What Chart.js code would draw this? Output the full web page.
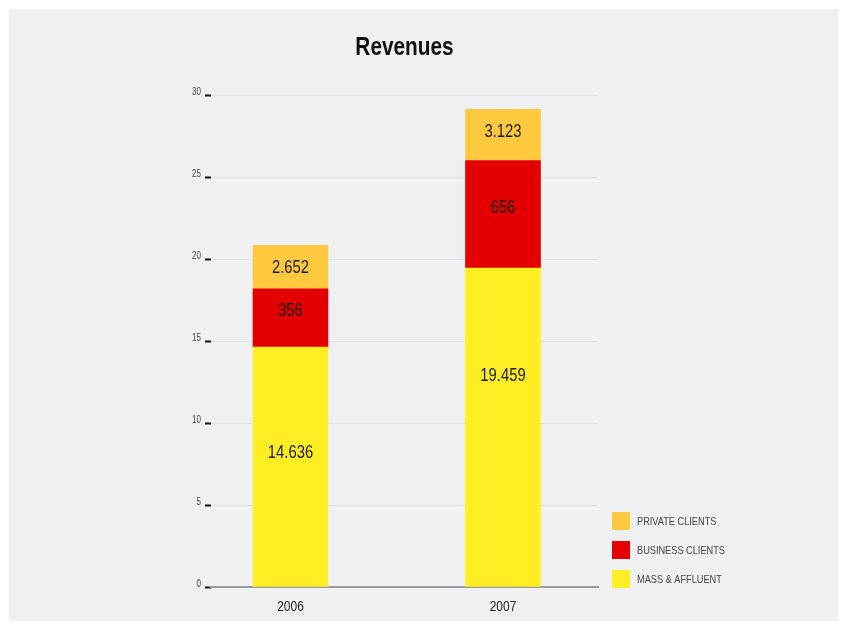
<!DOCTYPE html>
<html>
<head>
<meta charset="utf-8">
<title>Revenues</title>
<script src="https://cdn.jsdelivr.net/npm/chart.js@4.4.0/dist/chart.umd.min.js"></script>
<style>
  html, body { margin: 0; padding: 0; background: #fff; }
  #wrap { position: relative; width: 847px; height: 630px; }
  #panel { position: absolute; left: 9px; top: 9px; width: 829px; height: 612px; background: #eff0f2; }
  #myChart { position: absolute; left: 0; top: 0; }
</style>
</head>
<body>
<div id="wrap">
  <div id="panel"></div>
  <canvas id="myChart" width="847" height="630"></canvas>
</div>
<script>
const years = ['2006', '2007'];
const massAffluent = [14.636, 19.459];
const businessClients = [3.56, 6.56];
const privateClients = [2.652, 3.123];
const yTickValues = [0, 5, 10, 15, 20, 25, 30];

const FONT = "'Liberation Sans', Arial, sans-serif";
const SQUEEZE = 0.8; // condensed look: every string is drawn narrowed horizontally

// where each figure sits inside its segment (0 = top, 1 = bottom), per dataset / per year
const labelPlace = [[0.44, 0.34], [0.38, 0.44], [0.52, 0.45]];

const fmt3 = v => v.toFixed(3);
const fmtBiz = v => String(Math.round(v * 100));

function points(arr) {
    return arr.map((v, i) => ({ x: i, y: v }));
}

const ctx = document.getElementById('myChart').getContext('2d');

// narrow all text drawn on this canvas
const rawFill = ctx.fillText.bind(ctx);
const rawMeasure = ctx.measureText.bind(ctx);
ctx.fillText = function (text, x, y) {
    ctx.save();
    ctx.translate(x, y);
    ctx.scale(SQUEEZE, 1);
    rawFill(text, 0, 0);
    ctx.restore();
};
ctx.measureText = function (text) {
    const m = rawMeasure(text);
    return {
        width: m.width * SQUEEZE,
        actualBoundingBoxAscent: m.actualBoundingBoxAscent,
        actualBoundingBoxDescent: m.actualBoundingBoxDescent,
        actualBoundingBoxLeft: m.actualBoundingBoxLeft * SQUEEZE,
        actualBoundingBoxRight: m.actualBoundingBoxRight * SQUEEZE
    };
};

const segmentLabels = {
    id: 'segmentLabels',
    afterDatasetsDraw(chart) {
        const c = chart.ctx;
        c.save();
        c.font = '18.5px ' + FONT;
        c.fillStyle = '#1a1a1a';
        c.textAlign = 'center';
        c.textBaseline = 'middle';
        chart.data.datasets.forEach((ds, di) => {
            chart.getDatasetMeta(di).data.forEach((bar, i) => {
                const y = bar.y + (bar.base - bar.y) * labelPlace[di][i];
                c.fillText(ds.fmt(ds.data[i].y), bar.x, y);
            });
        });
        c.restore();
    }
};

// legend in the bottom right corner, next to the plot, top entry = top of the stack
const sideLegend = {
    id: 'sideLegend',
    afterDraw(chart) {
        const c = chart.ctx;
        const area = chart.chartArea;
        const left = area.right + 14;
        c.save();
        c.font = '11.5px ' + FONT;
        c.textAlign = 'left';
        c.textBaseline = 'middle';
        chart.data.datasets.forEach((ds, di) => {
            const top = area.bottom + 1 - 18 - di * 29;
            c.fillStyle = ds.backgroundColor;
            c.fillRect(left, top, 18, 18);
            c.fillStyle = '#444';
            c.fillText(ds.label, left + 25, top + 9.5);
        });
        c.restore();
    }
};

const revenueChart = new Chart(ctx, {
    type: 'bar',
    data: {
        datasets: [
            { label: 'MASS & AFFLUENT', data: points(massAffluent), backgroundColor: '#ffee24', fmt: fmt3 },
            { label: 'BUSINESS CLIENTS', data: points(businessClients), backgroundColor: '#e50000', fmt: fmtBiz },
            { label: 'PRIVATE CLIENTS', data: points(privateClients), backgroundColor: '#fec93f', fmt: fmt3 }
        ]
    },
    options: {
        responsive: false,
        animation: false,
        barThickness: 75,
        layout: { padding: { left: 175, top: 22, right: 249, bottom: 3 } },
        plugins: {
            title: {
                display: true,
                text: 'Revenues',
                fullSize: false,
                color: '#111',
                font: { family: FONT, size: 26, weight: 'bold' },
                padding: { top: 10, bottom: 32 }
            },
            legend: { display: false },
            tooltip: { enabled: false }
        },
        scales: {
            x: {
                type: 'linear',
                stacked: true,
                offset: false,
                min: -0.374,
                max: 1.447,
                afterBuildTicks: scale => { scale.ticks = years.map((y, i) => ({ value: i })); },
                ticks: {
                    padding: 11,
                    color: '#222',
                    font: { family: FONT, size: 15 },
                    callback: v => years[v]
                },
                grid: { display: false, drawTicks: false },
                border: { display: true, color: '#9a9a9a', width: 2 }
            },
            y: {
                stacked: true,
                min: 0,
                max: 30,
                afterBuildTicks: scale => { scale.ticks = yTickValues.map(v => ({ value: v })); },
                afterFit: scale => { scale.width = 36; },
                ticks: {
                    padding: 4,
                    labelOffset: -3,
                    color: '#444',
                    font: { family: FONT, size: 10 }
                },
                grid: {
                    color: '#dfe1e4',
                    lineWidth: 1,
                    tickColor: '#111',
                    tickLength: 6,
                    tickWidth: 2
                },
                border: { display: false }
            }
        }
    },
    plugins: [segmentLabels, sideLegend]
});
</script>
</body>
</html>
